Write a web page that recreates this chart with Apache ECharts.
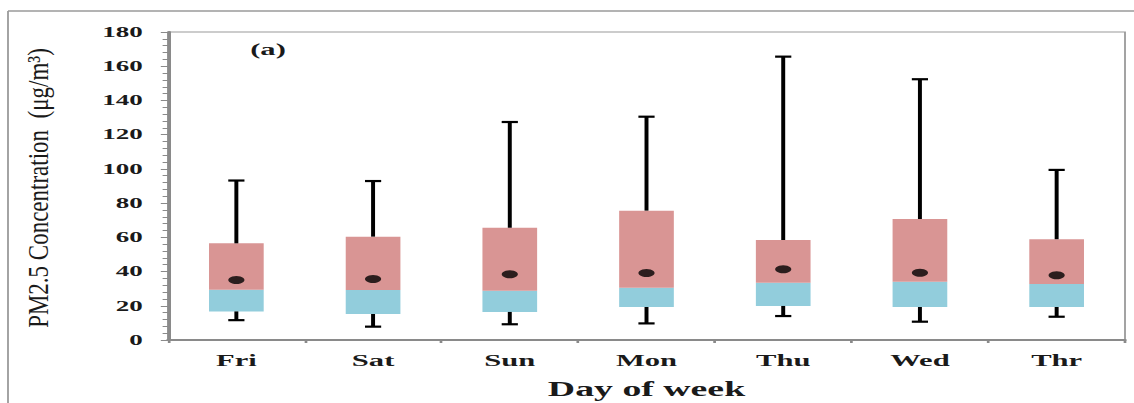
<!DOCTYPE html>
<html>
<head>
<meta charset="utf-8">
<script src="https://cdn.jsdelivr.net/npm/echarts/dist/echarts.min.js"></script>
<style>
  html, body { margin: 0; padding: 0; background: #fff; }
  #wrap { width: 1134px; height: 403px; overflow: hidden; position: relative; background: #fff; }
  #chart { width: 630px; height: 403px; transform: scaleX(1.8); transform-origin: 0 0; }
</style>
</head>
<body>
<div id="wrap"><div id="chart"></div></div>
<script>
// ---- data ----
const categories = ['Fri', 'Sat', 'Sun', 'Mon', 'Thu', 'Wed', 'Thr'];
const minValues    = [11.6, 7.8, 9.2, 9.7, 14.0, 10.7, 13.6];
const q1Values     = [16.7, 15.2, 16.4, 19.3, 19.9, 19.3, 19.3];
const medianValues = [29.3, 29.2, 28.8, 30.6, 33.5, 34.1, 32.7];
const q3Values     = [56.5, 60.4, 65.6, 75.6, 58.4, 70.7, 58.9];
const maxValues    = [93.2, 92.9, 127.4, 130.5, 165.6, 152.4, 99.4];
const meanValues   = [35.1, 35.6, 38.4, 39.2, 41.3, 39.3, 37.8];
const yTicks = { min: 0, max: 180, interval: 20 };

// horizontal stretch of the reference picture
const SX = 1.8;

const boxData = categories.map((c, i) => [i, minValues[i], q1Values[i], medianValues[i], q3Values[i], maxValues[i]]);
const meanData = categories.map((c, i) => [i, meanValues[i]]);

const chart = echarts.init(document.getElementById('chart'), null, { renderer: 'svg' });

const serif = '"Liberation Serif", "Times New Roman", serif';

function renderBox(params, api) {
  const idx = api.value(0);
  const cx = api.coord([idx, 0])[0];
  const bw = api.size([1, 0])[0] * 0.40;
  const y = v => api.coord([idx, v])[1];
  const yMin = y(api.value(1)), yQ1 = y(api.value(2)), yMed = y(api.value(3)),
        yQ3 = y(api.value(4)), yMax = y(api.value(5));
  const capW = 4.5;
  const lineStyle = { stroke: '#000', lineWidth: 2.2 };
  return {
    type: 'group',
    children: [
      { type: 'rect', shape: { x: cx - bw / 2, y: yMed, width: bw, height: yQ1 - yMed }, style: { fill: '#92CDDC' } },
      { type: 'rect', shape: { x: cx - bw / 2, y: yQ3, width: bw, height: yMed - yQ3 }, style: { fill: '#D99594' } },
      { type: 'line', shape: { x1: cx, y1: yQ3, x2: cx, y2: yMax }, style: lineStyle },
      { type: 'line', shape: { x1: cx - capW, y1: yMax, x2: cx + capW, y2: yMax }, style: lineStyle },
      { type: 'line', shape: { x1: cx, y1: yQ1, x2: cx, y2: yMin }, style: lineStyle },
      { type: 'line', shape: { x1: cx - capW, y1: yMin, x2: cx + capW, y2: yMin }, style: lineStyle }
    ]
  };
}

const option = {
  backgroundColor: '#fff',
  animation: false,
  grid: {
    left: 168 / SX, right: 630 - 1125 / SX, top: 32, bottom: 63,
    outerBoundsMode: 'none', containLabel: false,
    show: true, borderColor: '#9a9a9a', borderWidth: 1
  },
  xAxis: {
    type: 'category',
    data: categories,
    boundaryGap: true,
    axisLine: { lineStyle: { color: '#8a8a8a', width: 2 } },
    axisTick: { show: true, length: 3, lineStyle: { color: '#8a8a8a', width: 1.5 } },
    axisLabel: { color: '#1a1a1a', fontFamily: serif, fontWeight: 'bold', fontSize: 17, margin: 12 },
    name: 'Day of week',
    nameLocation: 'middle',
    nameGap: 39,
    nameTextStyle: { color: '#1a1a1a', fontFamily: serif, fontWeight: 'bold', fontSize: 21 }
  },
  yAxis: {
    type: 'value',
    min: yTicks.min, max: yTicks.max, interval: yTicks.interval,
    splitLine: { show: false },
    axisLine: { show: true, lineStyle: { color: '#8a8a8a', width: 2 } },
    axisTick: { show: true, length: 4, lineStyle: { color: '#8a8a8a', width: 1 } },
    minorTick: { show: true, splitNumber: 5, length: 3, lineStyle: { color: '#8a8a8a', width: 1 } },
    axisLabel: { color: '#1a1a1a', fontFamily: serif, fontWeight: 'bold', fontSize: 15, margin: 14 }
  },
  graphic: [
    { type: 'line', shape: { x1: 8 / SX, y1: 11, x2: 630, y2: 11 }, style: { stroke: '#9a9a9a', lineWidth: 1.5 }, silent: true },
    { type: 'line', shape: { x1: 8 / SX, y1: 11, x2: 8 / SX, y2: 403 }, style: { stroke: '#9a9a9a', lineWidth: 1 }, silent: true },
    {
      type: 'text', x: 38 / SX, y: 188, rotation: Math.PI / 2, scaleY: 1.3 / SX, silent: true,
      style: { text: 'PM2.5 Concentration  (μg/m³)', fontFamily: serif, fontSize: 23, fill: '#1a1a1a', align: 'center', verticalAlign: 'middle' }
    },
    {
      type: 'text', x: 268 / SX, y: 49, silent: true,
      style: { text: '(a)', fontFamily: serif, fontSize: 17, fontWeight: 'bold', fill: '#1a1a1a', align: 'center', verticalAlign: 'middle' }
    }
  ],
  series: [
    {
      type: 'custom',
      renderItem: renderBox,
      data: boxData,
      encode: { x: 0, y: [1, 2, 3, 4, 5] },
      z: 2
    },
    {
      type: 'scatter',
      data: meanData,
      symbol: 'circle',
      symbolSize: [9, 8],
      itemStyle: { color: '#000' },
      z: 3
    }
  ]
};
chart.setOption(option);
</script>
</body>
</html>
